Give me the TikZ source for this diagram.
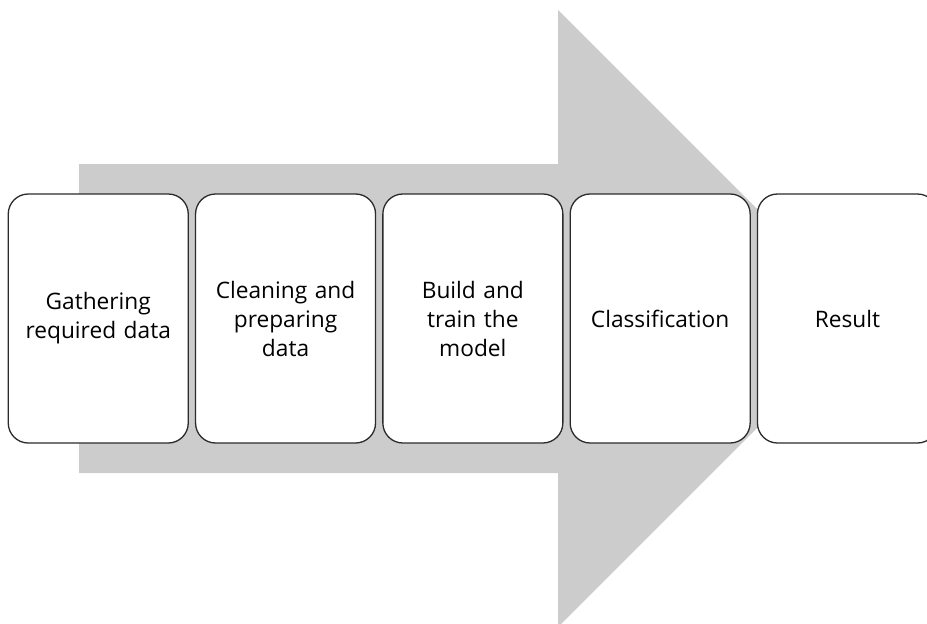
\documentclass[tikz,border=0pt]{standalone}
\usepackage{fontspec}
\setmainfont[Ligatures={NoCommon}]{Open Sans}
\definecolor{arrowgray}{HTML}{CCCCCC}
\definecolor{boxline}{HTML}{2B2B2B}
\begin{document}
\begin{tikzpicture}[x=1pt,y=-1pt,
  stepbox/.style={draw=boxline, line width=1.3pt, fill=white, rounded corners=20pt,
    minimum width=178.5pt, minimum height=249pt, align=center, inner sep=4pt,
    font=\fontsize{22.7}{29}\selectfont, text width=172pt}]
\useasboundingbox (0,0) rectangle (927,624);
\clip (0,0) rectangle (927,624);
\fill[arrowgray] (79,164) -- (558,164) -- (558,10) -- (866.5,318.5) -- (558,627) -- (558,473) -- (79,473) -- cycle;
\node[stepbox] (s1) at (98.25,318.5) {Gathering\\required data};
\node[stepbox] (s2) at (285.55,318.5) {Cleaning and\\preparing\\data};
\node[stepbox] (s3) at (472.85,318.5) {Build and\\train the\\model};
\node[stepbox] (s4) at (660.15,318.5) {Classification};
\node[stepbox] (s5) at (847.45,318.5) {Result};
\end{tikzpicture}
\end{document}
